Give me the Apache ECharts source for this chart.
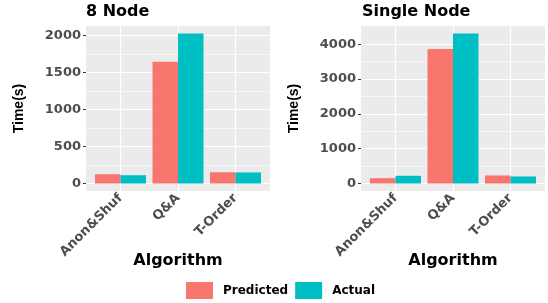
<!DOCTYPE html>
<html>
<head>
<meta charset="utf-8">
<script src="https://cdn.jsdelivr.net/npm/echarts@6/dist/echarts.min.js"></script>
<style>
  html, body { margin: 0; padding: 0; background: #fff; }
  #chart { width: 548px; height: 303px; }
</style>
</head>
<body>
<div id="chart"></div>
<script>
'use strict';

// data
var algorithms = ['Anon&Shuf', 'Q&A', 'T-Order'];
var predicted8 = [126, 1645, 152];
var actual8 = [112, 2028, 150];
var predictedSingle = [153, 3867, 231];
var actualSingle = [221, 4310, 202];
var ticks8 = [0, 500, 1000, 1500, 2000];
var minor8 = [250, 750, 1250, 1750];
var ticksSingle = [0, 1000, 2000, 3000, 4000];
var minorSingle = [500, 1500, 2500, 3500];

var PRED = '#F8766D';
var ACT = '#00BFC4';
var FONT = 'DejaVu Sans';

var chart = echarts.init(document.getElementById('chart'));

function points(vals) {
    return vals.map(function (v, i) { return [i + 1, v]; });
}

// ggplot style 5% padding round the data
function yRange(a, b) {
    var m = Math.max.apply(null, a.concat(b));
    return { min: -0.05 * m, max: 1.05 * m };
}

function xAxisFor(idx) {
    return {
        type: 'value', gridIndex: idx, min: 0.4, max: 3.6,
        name: 'Algorithm', nameLocation: 'middle', nameGap: 62, nameMoveOverlap: false,
        nameTextStyle: { fontFamily: FONT, fontWeight: 'bold', fontSize: 16, color: '#000' },
        axisLine: { show: false },
        splitLine: { show: false },
        axisTick: { customValues: [1, 2, 3], length: 3, lineStyle: { color: '#333' } },
        axisLabel: {
            customValues: [1, 2, 3], rotate: 45, margin: 5,
            fontFamily: FONT, fontWeight: 'bold', fontSize: 13, color: '#4D4D4D',
            formatter: function (v) { return algorithms[Math.round(v) - 1]; }
        }
    };
}

function yAxisFor(idx, range, ticks) {
    return {
        type: 'value', gridIndex: idx, min: range.min, max: range.max,
        name: 'Time(s)', nameLocation: 'middle', nameGap: 60, nameMoveOverlap: false,
        nameTextStyle: { fontFamily: 'Liberation Sans', fontWeight: 'bold', fontSize: 14, color: '#000' },
        axisLine: { show: false },
        splitLine: { show: false },
        axisTick: { customValues: ticks, length: 3, lineStyle: { color: '#333' } },
        axisLabel: {
            customValues: ticks, margin: 5,
            fontFamily: FONT, fontWeight: 'bold', fontSize: 13, color: '#4D4D4D',
            formatter: function (v) { return String(v); }
        }
    };
}

// panel grid lines, drawn under the bars
function gridLines(idx, ticks, minor) {
    var lines = [];
    minor.forEach(function (v) { lines.push({ yAxis: v, lineStyle: { width: 0.6 } }); });
    ticks.forEach(function (v) { lines.push({ yAxis: v }); });
    algorithms.forEach(function (c, i) { lines.push({ xAxis: i + 1 }); });
    return {
        type: 'line', name: 'grid', xAxisIndex: idx, yAxisIndex: idx, data: [], z: 1,
        markLine: {
            z: 1,
            silent: true, animation: false, symbol: ['none', 'none'],
            label: { show: false },
            lineStyle: { color: '#fff', width: 1.2, type: 'solid' },
            emphasis: { disabled: true },
            data: lines
        }
    };
}

function bars(idx, name, vals, color) {
    return {
        type: 'bar', name: name, xAxisIndex: idx, yAxisIndex: idx,
        data: points(vals), barWidth: 25.5, barGap: '0%', z: 3,
        itemStyle: { color: color }
    };
}

var option = {
    animation: false,
    backgroundColor: '#fff',
    title: [
        { text: '8 Node', left: 86, top: 4, padding: 0,
          textStyle: { fontFamily: FONT, fontWeight: 'bold', fontSize: 16, color: '#000' } },
        { text: 'Single Node', left: 362, top: 4, padding: 0,
          textStyle: { fontFamily: FONT, fontWeight: 'bold', fontSize: 16, color: '#000' } }
    ],
    legend: {
        data: ['Predicted', 'Actual'],
        left: 186, top: 282, padding: 0,
        icon: 'rect', itemWidth: 27, itemHeight: 17, itemGap: 7,
        textStyle: { fontFamily: FONT, fontWeight: 'bold', fontSize: 12, color: '#000', padding: [0, 0, 0, 5] }
    },
    grid: [
        { left: 86, top: 26, width: 184, height: 165, show: true, backgroundColor: '#EBEBEB', borderWidth: 0 },
        { left: 361, top: 26, width: 184, height: 165, show: true, backgroundColor: '#EBEBEB', borderWidth: 0 }
    ],
    xAxis: [xAxisFor(0), xAxisFor(1)],
    yAxis: [
        yAxisFor(0, yRange(predicted8, actual8), ticks8),
        yAxisFor(1, yRange(predictedSingle, actualSingle), ticksSingle)
    ],
    series: [
        gridLines(0, ticks8, minor8),
        gridLines(1, ticksSingle, minorSingle),
        bars(0, 'Predicted', predicted8, PRED),
        bars(0, 'Actual', actual8, ACT),
        bars(1, 'Predicted', predictedSingle, PRED),
        bars(1, 'Actual', actualSingle, ACT)
    ]
};

chart.setOption(option);
</script>
</body>
</html>
